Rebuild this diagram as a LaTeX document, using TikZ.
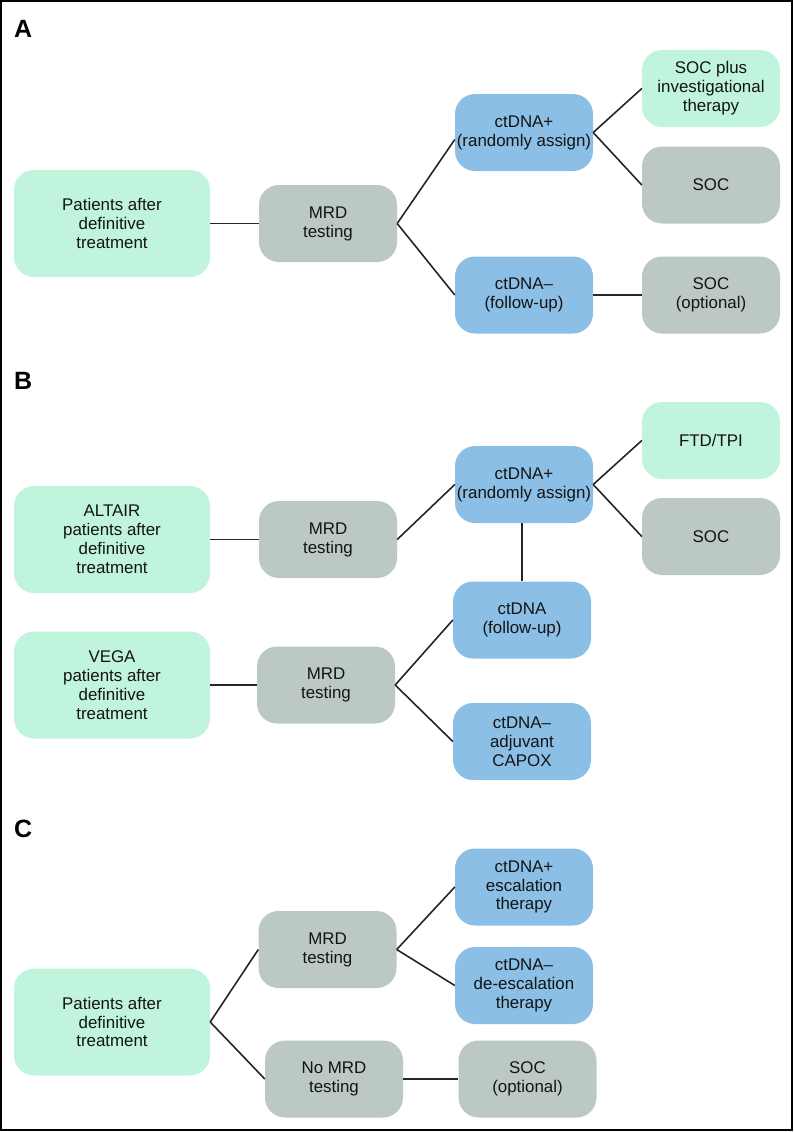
\documentclass[tikz,border=0pt]{standalone}
\usepackage{fontspec}
\setmainfont{Liberation Sans}
\definecolor{gfill}{RGB}{192,244,220}
\definecolor{yfill}{RGB}{187,200,198}
\definecolor{bfill}{RGB}{139,191,229}
\begin{document}
\begin{tikzpicture}[x=1pt,y=-1pt,
  box/.style={rounded corners=20pt, inner sep=0pt, align=center, draw=none,
    font=\fontsize{16.9}{18.9}\selectfont, text=black!92,
    minimum width=138pt, minimum height=77pt},
  big/.style={box, minimum width=196pt, minimum height=107pt},
  gb/.style={fill=gfill}, yb/.style={fill=yfill}, bb/.style={fill=bfill},
  lbl/.style={anchor=base west, inner sep=0pt, font=\fontsize{25}{25}\selectfont\bfseries},
  conn/.style={line width=1.6pt, black!85}]
\useasboundingbox (0,0) rectangle (794,1132);
\draw[line width=1.5pt] (1,1) rectangle (792,1130);
% labels
\node[lbl] (la) at (14,38) {A};
\node[lbl] (lb) at (14,389) {B};
\node[lbl] (lc) at (14,837) {C};
% Panel A
\node[big,gb] (pa) at (112,223.5) {Patients after\\definitive\\treatment};
\node[box,yb] (ma) at (328,223.5) {MRD\\testing};
\node[box,bb] (cpa) at (524,132.5) {ctDNA+\\(randomly assign)};
\node[box,gb] (spa) at (711,88.5) {SOC plus\\investigational\\therapy};
\node[box,yb] (sa) at (711,185) {SOC};
\node[box,bb] (cna) at (524,295) {ctDNA–\\(follow-up)};
\node[box,yb] (soa) at (711,295) {SOC\\(optional)};
\draw[conn] (pa.east) -- (ma.west);
\draw[conn] (ma.east) -- ([yshift=-7pt]cpa.west);
\draw[conn] (ma.east) -- (cna.west);
\draw[conn] (cpa.east) -- (spa.west);
\draw[conn] (cpa.east) -- (sa.west);
\draw[conn] (cna.east) -- (soa.west);
% Panel B
\node[big,gb] (alt) at (112,539.5) {ALTAIR\\patients after\\definitive\\treatment};
\node[box,yb] (mb1) at (328,539.5) {MRD\\testing};
\node[big,gb] (vega) at (112,685) {VEGA\\patients after\\definitive\\treatment};
\node[box,yb] (mb2) at (326,685) {MRD\\testing};
\node[box,bb] (cpb) at (524,484.5) {ctDNA+\\(randomly assign)};
\node[box,gb] (ftd) at (711,440.5) {FTD/TPI};
\node[box,yb] (sb) at (711,536.5) {SOC};
\node[box,bb] (cfb) at (522,620) {ctDNA\\(follow-up)};
\node[box,bb] (cnb) at (522,741.5) {ctDNA–\\adjuvant\\CAPOX};
\draw[conn] (alt.east) -- (mb1.west);
\draw[conn] (vega.east) -- (mb2.west);
\draw[conn] (mb1.east) -- (cpb.west);
\draw[conn] (cpb.east) -- (ftd.west);
\draw[conn] (cpb.east) -- (sb.west);
\draw[conn] (cpb.south -| cfb.north) -- (cfb.north);
\draw[conn] (mb2.east) -- (cfb.west);
\draw[conn] (mb2.east) -- (cnb.west);
% Panel C
\node[big,gb] (pc) at (112,1022) {Patients after\\definitive\\treatment};
\node[box,yb] (mc) at (327.5,949.5) {MRD\\testing};
\node[box,yb] (nmc) at (334,1079) {No MRD\\testing};
\node[box,bb] (cpc) at (524,887) {ctDNA+\\escalation\\therapy};
\node[box,bb] (cnc) at (524,985.5) {ctDNA–\\de-escalation\\therapy};
\node[box,yb] (soc) at (527.5,1079) {SOC\\(optional)};
\draw[conn] (pc.east) -- (mc.west);
\draw[conn] (pc.east) -- (nmc.west);
\draw[conn] (mc.east) -- (cpc.west);
\draw[conn] (mc.east) -- (cnc.west);
\draw[conn] (nmc.east) -- (soc.west);
\end{tikzpicture}
\end{document}
